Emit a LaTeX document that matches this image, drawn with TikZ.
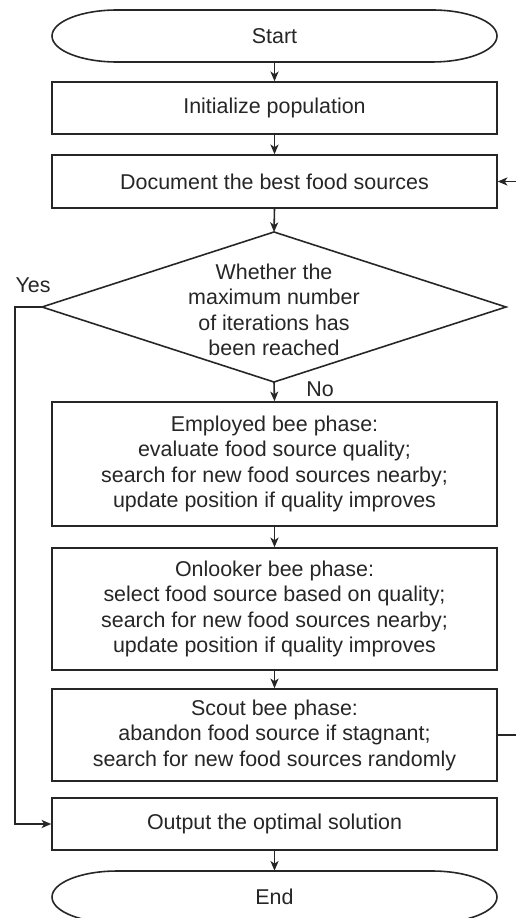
\documentclass[tikz,border=0pt]{standalone}
\usepackage{fontspec}
\setmainfont{Liberation Sans}
\usetikzlibrary{arrows.meta}
\definecolor{ink}{HTML}{262626}
\begin{document}
\begin{tikzpicture}[x=0.02cm,y=-0.02cm,
  every node/.style={font=\fontsize{12.2}{14.5}\selectfont, text=ink, align=center},
  box/.style={draw=ink, line width=0.9pt, minimum width=8.9cm, inner sep=0pt},
  term/.style={minimum width=8.9cm, minimum height=1.04cm, inner sep=0pt},
  line/.style={draw=ink, line width=0.9pt},
  arr/.style={line, -{Stealth[length=5.5pt,width=4.6pt,inset=1.5pt]}}]
\useasboundingbox (0,0) rectangle (516,918);
\fill[white] (0,0) rectangle (516,918);

% Start terminator
\node[term] (start) at (274.5,36) {Start};
\draw[line] (432,10) arc[start angle=90,end angle=-90,x radius=1.3cm,y radius=0.52cm]
  -- (117,62) arc[start angle=270,end angle=90,x radius=1.3cm,y radius=0.52cm] -- cycle;

\node[box, minimum height=1.04cm] (init) at (274.5,108) {Initialize population};
\node[box, minimum height=1.06cm] (doc) at (274.5,181.5) {Document the best food sources};

% Decision diamond
\coordinate (dtop) at (274,232);
\coordinate (dbot) at (274,382);
\coordinate (dleft) at (42,307);
\coordinate (dright) at (506,307);
\draw[line] (dtop) -- (dright) -- (dbot) -- (dleft) -- cycle;
\node (dec) at (274,310) {Whether the\\maximum number\\of iterations has\\been reached};

\node[box, minimum height=2.48cm] (emp) at (274.5,464)
  {Employed bee phase:\\evaluate food source quality;\\search for new food sources nearby;\\update position if quality improves};
\node[box, minimum height=2.44cm] (onl) at (274.5,609)
  {Onlooker bee phase:\\select food source based on quality;\\search for new food sources nearby;\\update position if quality improves};
\node[box, minimum height=1.84cm] (sco) at (274.5,735)
  {Scout bee phase:\\abandon food source if stagnant;\\search for new food sources randomly};
\node[box, minimum height=1.04cm] (out) at (274.5,824) {Output the optimal solution};

% End terminator
\node[term] (end) at (274.5,897) {End};
\draw[line] (432,871) arc[start angle=90,end angle=-90,x radius=1.3cm,y radius=0.52cm]
  -- (117,923) arc[start angle=270,end angle=90,x radius=1.3cm,y radius=0.52cm] -- cycle;

% Connectors
\draw[arr] (start.south) -- (init.north);
\draw[arr] (init.south) -- (doc.north);
\draw[arr] (doc.south) -- (dtop);
\draw[arr] (dbot) -- (emp.north);
\draw[arr] (emp.south) -- (onl.north);
\draw[arr] (onl.south) -- (sco.north);
\draw[arr] (out.south) -- (end.north);
\coordinate (yesx) at (15,307);
\draw[arr] (dleft) -- (yesx) |- (out.west);
\coordinate (loopx) at (522,735);
\draw[arr] (sco.east) -- (loopx) |- (doc.east);

\node (yes) at (33,285) {Yes};
\node (no) at (320,389) {No};
\end{tikzpicture}
\end{document}
